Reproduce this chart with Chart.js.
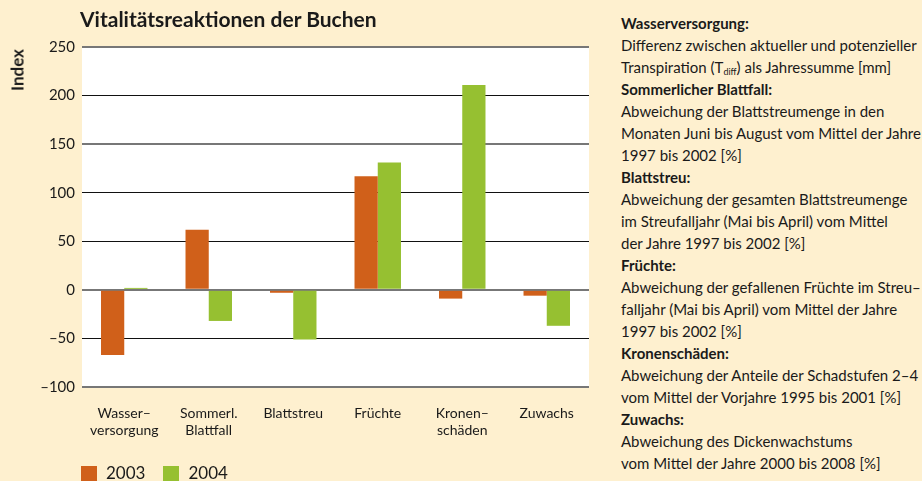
<!DOCTYPE html>
<html><head><meta charset="utf-8">
<script src="https://cdn.jsdelivr.net/npm/chart.js@4/dist/chart.umd.min.js"></script>
<style>
html,body{margin:0;padding:0;background:#FEF0CF;}
#wrap{position:relative;width:922px;height:481px;background:#FEF0CF;overflow:hidden;font-family:Lato,"Noto Sans",sans-serif;color:#1a1a1a;}
#title{position:absolute;left:80px;top:6px;font-size:21px;font-weight:700;white-space:nowrap;}
#ylab{position:absolute;left:17px;top:70px;transform:translate(-50%,-50%) rotate(-90deg);font-size:17px;font-weight:700;white-space:nowrap;}
#cv{position:absolute;left:0;top:0;}
#legend{position:absolute;left:81px;top:462px;font-size:17px;white-space:nowrap;}
#legend span.item{display:inline-block;margin-right:18px;line-height:16px;}
#legend i{display:inline-block;width:16px;height:15px;vertical-align:-2px;margin-right:9px;}
#notes{position:absolute;left:621px;top:12px;font-size:15px;line-height:22px;white-space:nowrap;}
#notes b{font-weight:700;}
sub{font-size:9px;vertical-align:-2px;line-height:0;}
</style></head>
<body><div id="wrap">
<canvas id="cv" width="600" height="481"></canvas>
<div id="title">Vitalitätsreaktionen der Buchen</div>
<div id="ylab">Index</div>
<div id="legend"></div>
<div id="notes">
<b>Wasserversorgung:</b><br>
Differenz zwischen aktueller und potenzieller<br>
Transpiration (T<sub>diff</sub>) als Jahressumme [mm]<br>
<b>Sommerlicher Blattfall:</b><br>
Abweichung der Blattstreumenge in den<br>
Monaten Juni bis August vom Mittel der Jahre<br>
1997 bis 2002 [%]<br>
<b>Blattstreu:</b><br>
Abweichung der gesamten Blattstreumenge<br>
im Streufalljahr (Mai bis April) vom Mittel<br>
der Jahre 1997 bis 2002 [%]<br>
<b>Früchte:</b><br>
Abweichung der gefallenen Früchte im Streu–<br>
falljahr (Mai bis April) vom Mittel der Jahre<br>
1997 bis 2002 [%]<br>
<b>Kronenschäden:</b><br>
Abweichung der Anteile der Schadstufen 2–4<br>
vom Mittel der Vorjahre 1995 bis 2001 [%]<br>
<b>Zuwachs:</b><br>
Abweichung des Dickenwachstums<br>
vom Mittel der Jahre 2000 bis 2008 [%]
</div>
</div>
<script>
const categories = [["Wasser–","versorgung"],["Sommerl.","Blattfall"],"Blattstreu","Früchte",["Kronen–","schäden"],"Zuwachs"];
const seriesNames = ["2003","2004"];
const values2003 = [-67, 62, -3, 117, -9, -6];
const values2004 = [2, -32, -51, 131, 211, -37];
const yTicks = [-100,-50,0,50,100,150,200,250];
const colors = ["#D0601A","#96C031"];

document.getElementById('legend').innerHTML = seriesNames.map((n,i)=>
  `<span class="item"><i style="background:${colors[i]}"></i>${n}</span>`).join('');

const whiteArea = {
  id:'whiteArea',
  beforeDraw(chart){
    const {ctx, chartArea:a} = chart;
    ctx.save(); ctx.fillStyle='#ffffff';
    ctx.fillRect(a.left, a.top, a.right-a.left, a.bottom-a.top);
    ctx.restore();
  }
};
const greyLines = [250,150,0,-100];

new Chart(document.getElementById('cv'), {
  type:'bar',
  data:{
    labels: categories,
    datasets:[
      {label:seriesNames[0], data:values2003, backgroundColor:colors[0], borderWidth:0},
      {label:seriesNames[1], data:values2004, backgroundColor:colors[1], borderWidth:0}
    ]
  },
  options:{
    responsive:false, animation:false,
    layout:{padding:{top:47,right:11,bottom:0,left:0}},
    plugins:{legend:{display:false}, tooltip:{enabled:false}},
    datasets:{bar:{categoryPercentage:0.55, barPercentage:1}},
    scales:{
      x:{
        grid:{display:false}, border:{display:false},
        ticks:{color:'#1a1a1a', font:{family:'Lato', size:14}, padding:10, maxRotation:0, autoSkip:false},
        afterFit(s){ s.height = 94; }
      },
      y:{
        min:-100, max:250,
        afterBuildTicks(s){ s.ticks = yTicks.map(v=>({value:v})); },
        grid:{
          drawTicks:false,
          color: c => greyLines.includes(c.tick && c.tick.value) ? '#777777' : '#111111',
          lineWidth: c => greyLines.includes(c.tick && c.tick.value) ? 2 : 1
        },
        border:{display:false},
        ticks:{color:'#1a1a1a', font:{family:'Lato', size:15}, padding:7,
          callback:v => String(v).replace('-', '–')},
        afterFit(s){ s.width = 82; }
      }
    }
  },
  plugins:[whiteArea]
});
</script>
</body></html>
